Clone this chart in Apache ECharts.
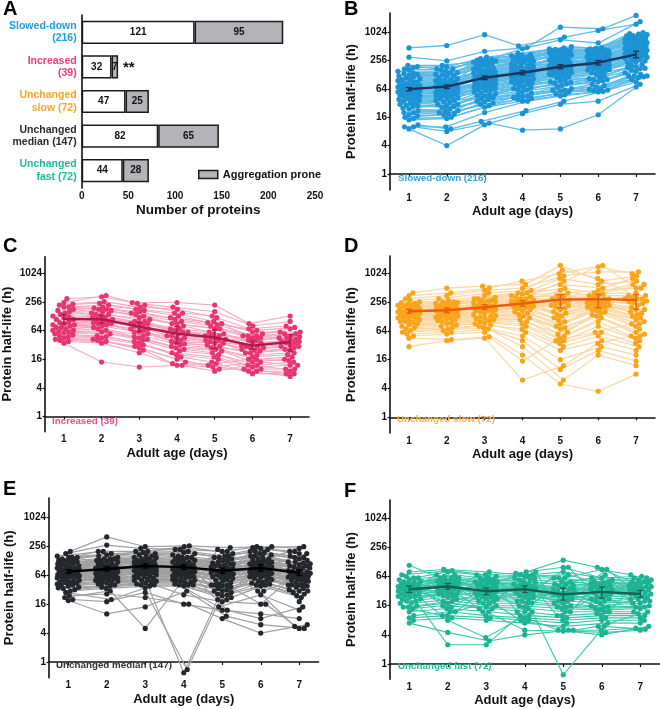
<!DOCTYPE html>
<html><head><meta charset="utf-8">
<script src="https://cdn.jsdelivr.net/npm/echarts@6/dist/echarts.min.js"></script>
<style>html,body{margin:0;padding:0;background:#fff}#c{width:660px;height:709px}</style>
</head><body><div id="c"></div>
<script>
// ---------------- DATA ----------------
const barCategories = ['Slowed-down\n(216)', 'Increased\n(39)', 'Unchanged\nslow (72)', 'Unchanged\nmedian (147)', 'Unchanged\nfast (72)'];
const nonAggregation = [121, 32, 47, 82, 44];
const aggregationProne = [95, 7, 25, 65, 28];
const days = [1, 2, 3, 4, 5, 6, 7];
const halfLifeTicks = [1, 4, 16, 64, 256, 1024];

// Panel B: Slowed-down (216) - half-lives (h) per protein, days 1..7
const slowedDown = [
[18,20,35,45,60,75,120],[22,19,40,52,70,90,150],[25,28,45,60,85,100,160],[28,26,50,70,95,110,180],
[30,34,55,65,90,120,200],[32,30,48,75,110,130,210],[35,40,60,80,100,140,230],[38,36,70,90,120,150,260],
[40,45,65,95,130,160,240],[42,40,75,100,140,170,300],[45,50,80,90,150,180,280],[48,46,85,110,160,200,320],
[50,55,90,120,150,210,350],[52,50,80,130,170,190,330],[55,60,100,120,180,220,380],[58,56,95,140,190,240,400],
[60,65,110,130,200,230,420],[62,60,100,150,210,250,360],[65,70,120,140,220,260,450],[68,66,115,160,200,280,480],
[70,75,130,170,240,270,500],[72,70,120,150,250,300,440],[75,80,140,180,230,290,520],[78,76,130,190,260,310,560],
[80,90,150,200,280,320,600],[85,82,160,190,300,300,540],[90,95,170,220,320,350,650],[95,100,160,240,330,380,700],
[100,110,190,250,350,360,620],[110,105,200,260,380,400,750],[120,130,220,280,400,420,800],[130,125,240,300,420,380,850],
[140,150,260,320,440,450,900],[160,170,280,340,450,420,950],[180,190,300,360,500,460,1000],[190,170,250,300,400,440,700],
[15,16,28,38,50,62,110],[16,18,30,40,55,58,120],[20,22,32,42,60,70,130],[24,22,38,48,65,80,140],
[14,15,26,35,48,56,100],[17,19,34,44,58,64,115],[10,8,12,8.5,9,18,70],[9,4,11,19,30,35,80],
[11,9,13,22,35,60,90],[10,10,20,35,45,55,120],[470,530,900,520,800,1100,1500],[300,250,400,480,1300,1200,2300],
[200,200,250,450,700,600,1700],[36,33,58,85,125,165,290],[44,48,72,105,145,190,330],[54,52,88,125,175,215,370],
[64,62,105,145,195,245,430],[74,78,125,165,235,275,470],[88,86,145,205,275,330,580],[105,98,175,235,340,370,680],
[125,120,210,270,390,410,780],[150,140,230,290,410,400,820],[27,30,52,68,88,105,190],[33,36,62,82,115,140,250],
[46,42,78,98,138,172,310],[57,63,98,132,185,228,410],[66,72,118,158,215,262,460],[82,78,138,178,255,300,530],
[98,92,152,215,300,340,610],[115,120,185,245,360,390,720],[135,140,235,285,430,430,860],[170,160,270,330,470,480,920],
[20,24,42,56,75,95,170],[29,27,46,62,82,100,175],[39,43,68,92,128,160,270],[49,53,82,112,158,205,350],
[59,55,92,128,178,220,390],[69,64,108,148,205,255,440]
];
const slowedDownMean = [63, 71, 110, 140, 188, 229, 345];
const slowedDownLow  = [58, 65, 100, 127, 170, 205, 290];
const slowedDownHigh = [68, 77, 120, 155, 208, 255, 400];

// Panel C: Increased (39)
const increased = [
[300,330,250,250,220,90,130],[250,350,240,200,160,80,100],[220,260,200,180,120,70,80],[200,220,180,150,100,60,60],
[180,200,150,120,90,55,70],[160,180,130,100,80,50,50],[150,170,120,90,70,45,55],[140,150,110,80,60,40,45],
[130,140,100,70,55,35,40],[120,130,95,60,50,32,42],[110,120,90,55,45,30,38],[100,110,85,50,42,28,35],
[95,100,80,45,40,26,30],[90,95,70,40,38,25,32],[85,90,65,38,35,24,28],[80,85,60,36,32,22,25],
[75,80,55,34,30,20,22],[70,75,50,32,28,18,20],[65,70,48,30,26,16,18],[60,65,45,28,24,14,16],
[58,60,42,26,22,12,14],[55,55,40,24,20,11,12],[52,50,38,22,18,10,10],[50,48,35,20,16,9,9],
[48,45,32,18,14,8,8],[45,42,30,16,12,9,7],[42,40,28,14,10,10,8],[40,38,25,13,9,12,10],
[38,35,22,12,11,14,12],[35,14,11,12,13,16,15],[200,180,220,150,130,50,60],[170,190,160,110,85,45,48],
[230,240,170,130,95,65,75],[65,100,75,60,55,40,45],[75,120,90,70,50,35,38],[110,160,140,90,70,50,55],
[85,140,100,65,48,30,36],[62,90,60,45,40,28,30],[125,110,70,50,35,22,26]
];
const increasedMean = [112, 111, 78, 55, 46, 31, 37];
const increasedLow  = [90, 92, 62, 35, 27, 26, 24];
const increasedHigh = [138, 135, 95, 78, 66, 39, 53];

// Panel D: Unchanged slow (72)
const unchangedSlow = [
[400,500,550,600,1500,700,900],[350,400,500,700,1000,1500,500],[300,350,450,500,900,1100,1100],[280,300,400,450,800,600,700],
[260,280,350,400,600,500,800],[250,260,300,380,500,400,600],[240,250,280,350,400,450,500],[230,240,270,330,350,380,400],
[220,230,260,300,300,350,350],[210,220,250,280,250,300,300],[200,210,240,270,220,320,250],[190,200,230,260,200,280,220],
[180,190,220,250,180,260,200],[170,180,210,240,160,250,180],[160,170,200,230,150,240,160],[150,160,190,220,140,230,150],
[145,150,180,210,130,220,140],[140,145,170,200,120,210,130],[135,140,160,190,110,200,120],[130,135,150,180,100,190,110],
[125,130,140,170,90,180,100],[120,125,135,160,80,170,90],[115,120,130,150,75,160,80],[110,115,125,140,70,150,70],
[105,110,120,130,60,140,60],[100,105,115,120,55,130,55],[95,100,110,110,50,120,50],[90,95,105,100,45,100,45],
[85,90,100,90,40,80,40],[80,85,95,80,35,60,35],[75,80,90,70,30,50,30],[70,75,85,60,25,40,25],
[65,70,80,50,16,30,20],[60,65,75,40,10,25,15],[55,60,70,30,6,20,12],[50,55,60,20,5,3.5,8],
[30,40,45,6,12,35,50],[45,42,48,15,40,60,90],[170,200,300,400,1200,800,300],[220,260,320,300,700,1400,1000],
[130,150,200,260,450,350,600],[190,230,280,320,350,300,260],[150,170,190,230,260,280,320],[160,190,210,260,300,260,240],
[100,120,160,200,240,200,180],[210,180,200,230,280,260,300],[175,160,180,220,190,240,270],[120,140,170,240,220,270,350]
];
const unchangedSlowMean = [165, 173, 200, 239, 290, 295, 285];
const unchangedSlowLow  = [150, 155, 180, 210, 194, 195, 180];
const unchangedSlowHigh = [182, 192, 225, 275, 367, 370, 367];

// Panel E: Unchanged median (147)
const unchangedMedian = [
[200,400,250,260,240,250,230],[180,270,230,220,200,240,250],[160,200,200,250,180,230,200],[150,180,190,200,160,220,180],
[140,170,180,190,150,200,160],[130,160,170,180,140,190,150],[125,150,160,170,130,180,140],[120,140,150,160,120,170,130],
[115,130,140,150,115,160,120],[110,125,135,140,110,150,115],[105,120,130,135,105,140,110],[100,115,125,130,100,130,105],
[95,110,120,120,95,125,100],[90,105,115,115,90,120,95],[88,100,110,110,85,115,90],[85,95,105,105,80,110,85],
[82,90,100,100,78,105,80],[80,88,95,95,75,100,78],[78,85,92,92,72,95,75],[75,82,90,90,70,90,72],
[72,80,88,88,68,88,70],[70,78,85,85,65,85,68],[68,75,82,82,62,82,65],[66,72,80,80,60,80,62],
[64,70,78,78,58,78,60],[62,68,75,75,55,75,58],[60,65,72,72,52,72,55],[58,62,70,70,50,70,52],
[56,60,68,68,48,68,50],[54,58,65,65,45,65,48],[52,56,62,62,42,62,45],[50,54,60,60,40,60,42],
[48,52,58,58,38,58,40],[46,50,55,55,36,55,38],[44,48,52,52,34,52,36],[42,46,50,50,32,50,34],
[40,44,48,48,30,48,32],[38,42,46,46,28,46,30],[36,40,44,44,26,44,28],[34,38,42,42,24,42,26],
[32,36,40,40,22,40,24],[30,34,38,38,20,38,22],[20,18,28,16,12,10,8],[60,90,100,0.6,20,70,40],
[45,60,80,0.7,40,16,60],[24,26,22,16,8,4,6],[28,20,40,25,18,16,5],[19,10,14,30,9,6,5],
[22,30,5,40,14,25,12],[120,90,150,100,200,80,180],[90,130,70,150,60,200,100],[60,100,130,80,150,110,200],
[150,100,80,120,90,160,60],[40,70,100,130,110,90,150],[130,60,110,70,130,60,120],[70,140,60,110,40,140,40],
[110,50,90,50,70,120,50],[45,80,50,90,25,100,30],[35,55,120,60,160,40,90],[80,45,160,40,220,30,70],
[100,140,200,220,30,250,18],[150,200,110,60,12,8,14],[90,70,35,150,100,30,5.5]
];
const unchangedMedianMean = [76, 86, 99, 94, 79, 90, 72];
const unchangedMedianLow  = [70, 78, 90, 85, 70, 78, 63];
const unchangedMedianHigh = [83, 95, 110, 105, 90, 105, 82];

// Panel F: Unchanged fast (72)
const unchangedFast = [
[110,60,50,80,140,100,50],[80,90,80,70,60,90,70],[70,85,70,75,100,60,65],[60,80,65,70,80,55,60],
[55,70,60,65,70,50,55],[50,65,55,60,60,48,50],[48,60,50,55,50,45,48],[45,55,48,50,45,42,45],
[42,52,45,48,42,40,42],[40,50,42,45,40,38,40],[38,48,40,42,38,36,38],[36,45,38,40,36,34,36],
[35,42,36,38,34,32,34],[34,40,34,36,32,30,32],[32,38,32,34,30,28,30],[30,36,30,32,28,26,28],
[28,34,28,30,26,24,26],[26,32,26,28,24,22,24],[25,30,25,26,22,20,22],[24,28,24,24,20,18,20],
[22,26,22,22,18,16,18],[20,24,20,20,16,15,16],[18,22,18,18,15,14,15],[16,20,16,16,14,13,14],
[15,18,15,14,12,12,12],[14,16,14,12,10,11,11],[12,14,12,10,9,10,10],[10,12,10,9,8,9,9],
[9,10,9,8,7,8,8],[8,9,8,7,6,7,7],[7,4.5,3,4,5,5,5.5],[20,2.5,2.5,10,5,4,6],
[30,8,3.5,12,0.6,6,5.2],[40,20,14,5,4.8,4.5,5],[50,60,30,8,5,6,12],[60,30,70,20,100,30,40],
[25,70,20,80,15,90,25],[35,15,45,12,50,20,60],[45,25,60,18,35,12,35],[18,50,12,55,25,70,15],
[28,45,22,65,12,40,30],[55,35,40,30,20,50,20],[38,12,28,40,10,25,45],[22,40,55,25,30,15,28],
[33,55,25,45,18,35,55],[65,40,32,15,45,60,38],[15,10,18,35,60,45,22],[42,28,50,60,28,22,18]
];
const unchangedFastMean = [35, 40, 32, 35, 27.5, 31, 28];
const unchangedFastLow  = [30, 35, 27, 30, 21, 23, 24];
const unchangedFastHigh = [41, 46, 37, 41, 37, 39, 33];

// ---------------- CHART ----------------
const FONT = '"Liberation Sans", Arial, Helvetica, sans-serif';
const log2 = v => Math.log(v) / Math.LN2;

const grids = [
  {left: 81.7, top: 15, width: 233.3, height: 173},   // A
  {left: 390, top: 13, width: 265, height: 177},      // B
  {left: 45, top: 256.7, width: 264, height: 175},    // C
  {left: 390, top: 256, width: 265, height: 177},     // D
  {left: 49, top: 498, width: 269.5, height: 179.7},  // E
  {left: 390, top: 500, width: 269.5, height: 179.3}  // F
];

const panels = [
  {lines: slowedDown, mean: slowedDownMean, low: slowedDownLow, high: slowedDownHigh, g: 1, ymin: -1.13, ymax: 11.34,
   lineColor: '#5cbde9', dotColor: '#1b93d5', meanColor: '#1a3558', nameGap: 32, lw: 1.3},
  {lines: increased, mean: increasedMean, low: increasedLow, high: increasedHigh, g: 2, ymin: -1.05, ymax: 11.16,
   lineColor: '#f6a9c3', dotColor: '#e7356f', meanColor: '#b3174c', nameGap: 31, lw: 1.1},
  {lines: unchangedSlow, mean: unchangedSlowMean, low: unchangedSlowLow, high: unchangedSlowHigh, g: 3, ymin: -1.09, ymax: 11.2,
   lineColor: '#fcd7a4', dotColor: '#f8a51c', meanColor: '#ea5d0c', nameGap: 32, lw: 1.2},
  {lines: unchangedMedian, mean: unchangedMedianMean, low: unchangedMedianLow, high: unchangedMedianHigh, g: 4, ymin: -1.08, ymax: 11.33,
   lineColor: '#a0a0a0', dotColor: '#23272c', meanColor: '#000000', nameGap: 33, lw: 1.2},
  {lines: unchangedFast, mean: unchangedFastMean, low: unchangedFastLow, high: unchangedFastHigh, g: 5, ymin: -1.05, ymax: 11.26,
   lineColor: '#3cc7ad', dotColor: '#1bb393', meanColor: '#17614f', nameGap: 32, lw: 1.1}
];

// deterministic beeswarm offsets computed from the data values
function swarm(lines, pxX, pxY) {
  const D = 4.6, W = 11, STEP = 0.5;
  const xs = lines.map(() => new Array(7).fill(0));
  for (let j = 0; j < 7; j++) {
    const pts = lines.map((l, i) => ({i, y: log2(l[j]) * pxY})).sort((a, b) => a.y - b.y);
    const placed = [];
    for (const p of pts) {
      let best = 0, bestScore = -1;
      const nCand = Math.floor(W / STEP);
      for (let k = 0; k <= 2 * nCand; k++) {
        const off = (k % 2 === 1 ? 1 : -1) * Math.ceil(k / 2) * STEP;
        let minD = Infinity;
        for (let q = placed.length - 1; q >= 0; q--) {
          const dy = p.y - placed[q].y;
          if (dy >= D) break;
          const dx = off - placed[q].x;
          const d = Math.sqrt(dx * dx + dy * dy);
          if (d < minD) minD = d;
        }
        if (minD >= D) { best = off; bestScore = Infinity; break; }
        if (minD > bestScore) { bestScore = minD; best = off; }
      }
      placed.push({x: best, y: p.y});
      xs[p.i][j] = days[j] + best / pxX;
    }
  }
  return xs;
}

const xAxes = [], yAxes = [], series = [];
// Panel A axes
xAxes.push({gridIndex: 0, type: 'value', min: 0, max: 250, interval: 50,
  name: 'Number of proteins', nameLocation: 'middle', nameGap: 15,
  nameTextStyle: {fontFamily: FONT, fontWeight: 'bold', fontSize: 13.5, color: '#111'},
  axisLine: {lineStyle: {color: '#111', width: 1.6}}, axisTick: {length: 3, lineStyle: {color: '#111', width: 1.2}},
  axisLabel: {fontFamily: FONT, fontWeight: 'bold', fontSize: 10, color: '#111', margin: 3},
  splitLine: {show: false}});
const aColors = ['#1da1dc', '#e8407a', '#f5a52a', '#2b2b2b', '#1abc9c'];
yAxes.push({gridIndex: 0, type: 'category', inverse: true, data: barCategories,
  axisLine: {lineStyle: {color: '#111', width: 1.6}}, axisTick: {length: 3, alignWithLabel: true, lineStyle: {color: '#111', width: 1.2}},
  axisLabel: {fontFamily: FONT, fontWeight: 'bold', fontSize: 10.5, lineHeight: 12.5, margin: 5, align: 'right',
    color: (v, i) => aColors[i]}});
series.push({type: 'bar', name: 'Not aggregation prone', xAxisIndex: 0, yAxisIndex: 0, stack: 'a', data: nonAggregation,
  barWidth: '67%', itemStyle: {color: '#ffffff', borderColor: '#1a1a1a', borderWidth: 1.5},
  label: {show: true, position: 'inside', fontFamily: FONT, fontWeight: 'bold', fontSize: 10, color: '#111'}});
series.push({type: 'bar', name: 'Aggregation prone', xAxisIndex: 0, yAxisIndex: 0, stack: 'a', data: aggregationProne,
  barWidth: '67%', itemStyle: {color: '#b3b3b8', borderColor: '#1a1a1a', borderWidth: 1.5},
  label: {show: true, position: 'inside', fontFamily: FONT, fontWeight: 'bold', fontSize: 10, color: '#111'}});

panels.forEach((P, idx) => {
  const g = grids[P.g];
  const pxX = g.width / 7, pxY = g.height / (P.ymax - P.ymin);
  const xs = swarm(P.lines, pxX, pxY);
  const ai = idx + 1;
  xAxes.push({gridIndex: P.g, type: 'value', min: 0.5, max: 7.5,
    name: 'Adult age (days)', nameLocation: 'middle', nameGap: 15,
    nameTextStyle: {fontFamily: FONT, fontWeight: 'bold', fontSize: 13, color: '#111'},
    axisLine: {lineStyle: {color: '#111', width: 1.6}},
    axisTick: {length: 3, customValues: days, lineStyle: {color: '#111', width: 1.2}},
    axisLabel: {customValues: days, fontFamily: FONT, fontWeight: 'bold', fontSize: 10, color: '#111', margin: 3},
    splitLine: {show: false}});
  yAxes.push({gridIndex: P.g, type: 'value', min: P.ymin, max: P.ymax,
    name: 'Protein half-life (h)', nameLocation: 'middle', nameGap: P.nameGap,
    nameTextStyle: {fontFamily: FONT, fontWeight: 'bold', fontSize: 13, color: '#111'},
    axisLine: {show: true, lineStyle: {color: '#111', width: 1.6}},
    axisTick: {show: true, length: 2.5, customValues: halfLifeTicks.map(log2), lineStyle: {color: '#111', width: 1.2}},
    axisLabel: {customValues: halfLifeTicks.map(log2), fontFamily: FONT, fontWeight: 'bold', fontSize: 10, color: '#111', margin: 3,
      formatter: v => String(Math.round(Math.pow(2, v)))},
    splitLine: {show: false}});
  series.push({type: 'lines', coordinateSystem: 'cartesian2d', polyline: true, xAxisIndex: ai, yAxisIndex: ai, z: 1,
    silent: true, lineStyle: {color: P.lineColor, width: P.lw, opacity: 1},
    data: P.lines.map((l, i) => ({coords: l.map((v, j) => [xs[i][j], log2(v)])}))});
  const pts = [];
  P.lines.forEach((l, i) => l.forEach((v, j) => pts.push([xs[i][j], log2(v)])));
  series.push({type: 'scatter', xAxisIndex: ai, yAxisIndex: ai, z: 2, symbolSize: 5.2, silent: true,
    itemStyle: {color: P.dotColor, opacity: 1}, data: pts});
  series.push({type: 'line', xAxisIndex: ai, yAxisIndex: ai, z: 3, symbol: 'none', silent: true,
    lineStyle: {color: P.meanColor, width: 2.4}, data: days.map((d, j) => [d, log2(P.mean[j])])});
  series.push({type: 'custom', xAxisIndex: ai, yAxisIndex: ai, z: 4, silent: true,
    data: days.map((d, j) => [d, log2(P.low[j]), log2(P.high[j])]),
    encode: {x: 0, y: [1, 2]},
    renderItem: (params, api) => {
      const lo = api.coord([api.value(0), api.value(1)]);
      const hi = api.coord([api.value(0), api.value(2)]);
      const cw = 3;
      const st = {stroke: P.meanColor, lineWidth: 1.3};
      return {type: 'group', children: [
        {type: 'line', shape: {x1: lo[0], y1: lo[1], x2: hi[0], y2: hi[1]}, style: st},
        {type: 'line', shape: {x1: lo[0] - cw, y1: lo[1], x2: lo[0] + cw, y2: lo[1]}, style: st},
        {type: 'line', shape: {x1: hi[0] - cw, y1: hi[1], x2: hi[0] + cw, y2: hi[1]}, style: st}
      ]};
    }});
});

const letter = (t, x, y) => ({type: 'text', left: x, top: y, z: 10,
  style: {text: t, fontFamily: FONT, fontWeight: 'bold', fontSize: 20, fill: '#000'}});
const inLabel = (t, x, y, c) => ({type: 'text', left: x, top: y, z: 10,
  style: {text: t, fontFamily: FONT, fontWeight: 'bold', fontSize: 9.8, fill: c}});

const option = {
  animation: false,
  backgroundColor: '#ffffff',
  grid: grids.map(g => Object.assign({containLabel: false}, g)),
  xAxis: xAxes, yAxis: yAxes, series: series,
  legend: {data: ['Aggregation prone'], left: 193, top: 164, itemWidth: 19, itemHeight: 8, itemGap: 6,
    icon: 'rect', itemStyle: {color: '#b3b3b8', borderColor: '#1a1a1a', borderWidth: 1.5},
    textStyle: {fontFamily: FONT, fontWeight: 'bold', fontSize: 11, color: '#111'}},
  graphic: [
    letter('A', 3, -1), letter('B', 344, -1), letter('C', 3, 236), letter('D', 344, 236),
    letter('E', 3, 479), letter('F', 344, 481),
    {type: 'text', left: 123, top: 60, z: 10, style: {text: '**', fontFamily: FONT, fontWeight: 'bold', fontSize: 15, fill: '#111'}},
    inLabel('Slowed-down (216)', 398, 173, '#2aa7e0'),
    inLabel('Increased (39)', 52, 416, '#e8508a'),
    inLabel('Unchanged slow (72)', 397, 414, '#f8b33c'),
    inLabel('Unchanged median (147)', 56, 660, '#333333'),
    inLabel('Unchanged fast (72)', 398, 661, '#22c0a0')
  ]
};
echarts.init(document.getElementById('c'), null, {renderer: 'canvas'}).setOption(option);
</script></body></html>
